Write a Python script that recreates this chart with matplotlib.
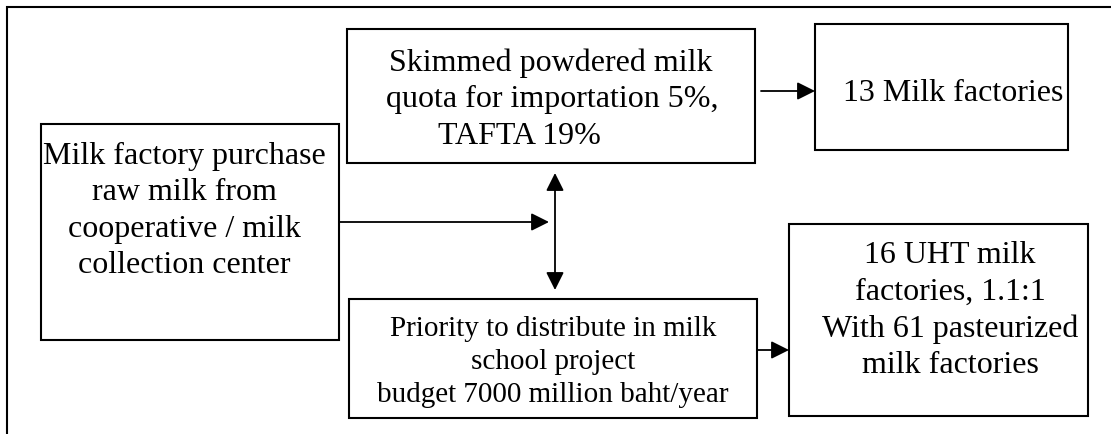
import matplotlib
matplotlib.use("Agg")
import matplotlib.pyplot as plt
from matplotlib.patches import Rectangle

plt.rcParams["font.family"] = ["Liberation Serif", "DejaVu Serif"]

# Box texts, one entry per line
source_lines = ["Milk factory purchase", "raw milk from", "cooperative / milk", "collection center"]
quota_lines = ["Skimmed powdered milk", "quota for importation 5%,", "TAFTA 19%"]
factory_lines = ["13 Milk factories"]
school_lines = ["Priority to distribute in milk", "school project", "budget 7000 million baht/year"]
uht_lines = ["16 UHT milk", "factories, 1.1:1", "With 61 pasteurized", "milk factories"]


#Layout, all in pixels of the 1111x434 picture (y goes down).
W, H = 1111, 434

fig = plt.figure(figsize=(W / 100, H / 100), dpi=100)
ax = fig.add_axes([0, 0, 1, 1])
ax.set_xlim(0, W)
ax.set_ylim(H, 0)
ax.axis("off")


def draw_box(box, lines, x_centers, baselines, size):
    x0, y0, x1, y1 = box
    ax.add_patch(Rectangle((x0, y0), x1 - x0, y1 - y0, fill=False, lw=1.5, ec="black"))
    for line, xc, yb in zip(lines, x_centers, baselines):
        ax.text(xc, yb, line, ha="center", va="baseline", fontsize=size, color="black")


def arrow(start, end, style="-|>"):
    ax.annotate("", xy=end, xytext=start,
                arrowprops=dict(arrowstyle=style, color="black", lw=1.3,
                                mutation_scale=27, shrinkA=0, shrinkB=0))


# outer frame (only top and left edges are inside the picture)
ax.plot([7, 7, W], [H, 7, 7], color="black", lw=1.5, solid_joinstyle="miter")

draw_box((41, 124, 339, 340), source_lines, [184] * 4, [164, 200, 236.5, 273], 23)
draw_box((347, 29, 755, 163), quota_lines, [551, 552, 519], [71, 107.5, 144], 23)
draw_box((815, 24, 1068, 150), factory_lines, [953], [101], 23)
draw_box((349, 299, 757, 418), school_lines, [553] * 3, [336, 369, 402.5], 21)
draw_box((789, 224, 1088, 416), uht_lines, [950] * 4, [263, 300, 337, 373], 23)

arrow((339, 222), (549, 222))
arrow((555, 290), (555, 173), style="<|-|>")
arrow((761, 91), (815, 91))
arrow((757, 350), (789, 350))

fig.savefig("out.png", dpi=100)
plt.close(fig)
